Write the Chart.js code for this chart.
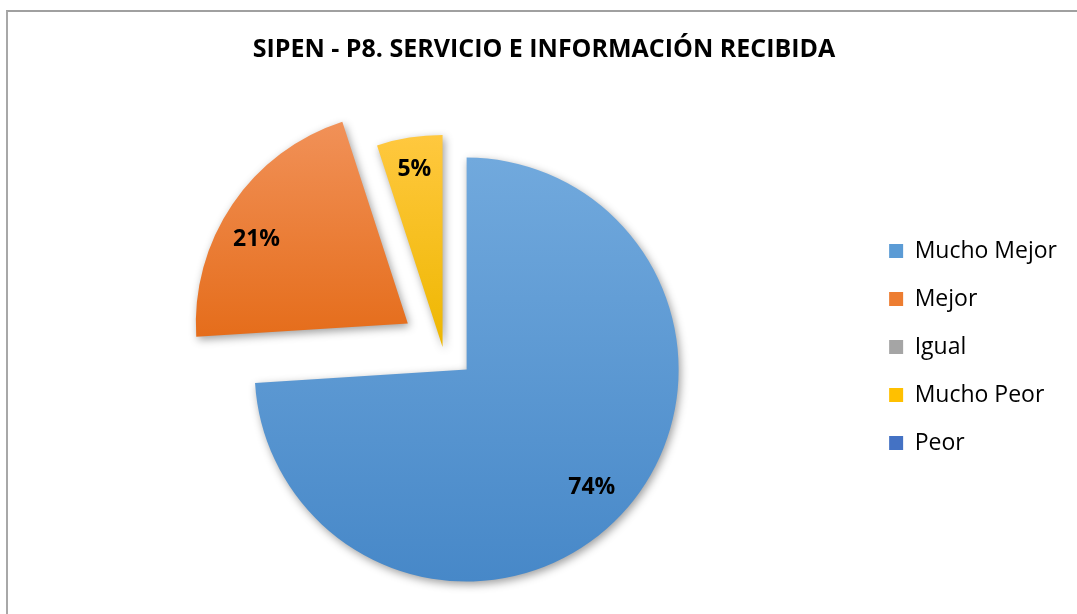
<!DOCTYPE html>
<html>
<head>
<meta charset="utf-8">
<script src="https://cdn.jsdelivr.net/npm/chart.js@4.4.1/dist/chart.umd.min.js"></script>
<style>
  html, body { margin: 0; padding: 0; background: #fff; }
  #wrap { position: relative; width: 1077px; height: 614px; overflow: hidden; }
  #frame { position: absolute; left: 6px; top: 10px; width: 1200px; height: 700px;
           border-left: 2px solid #a8a8a8; border-top: 2px solid #a0a0a0; }
  canvas { position: absolute; left: 0; top: 0; }
</style>
</head>
<body>
<div id="wrap">
  <div id="frame"></div>
  <canvas id="chart" width="1077" height="614"></canvas>
</div>
<script>
// ---- data ----
const categories = ['Mucho Mejor', 'Mejor', 'Igual', 'Mucho Peor', 'Peor'];
const values = [74, 21, 0, 5, 0];
const chartTitle = 'SIPEN - P8. SERVICIO E INFORMACIÓN RECIBIDA';

// ---- style ----
const legendColors = ['#5B9BD5', '#ED7D31', '#A5A5A5', '#FFC000', '#4472C4'];
const topColors    = ['#71A9DD', '#F19158', '#B5B5B5', '#FFC83F', '#5B86D0'];
const bottomColors = ['#4788C8', '#E56D1B', '#959595', '#EEB700', '#3A64B2'];
const explode      = [33, 42, 0, 0, 0];               // px pulled out along the bisector
const labelAt      = [0.5, 0.43, 0.5, 0.5, 0.5];      // where along the slice the label sits
const labelRadius  = [0.81, 0.815, 0.8, 0.85, 0.8];   // fraction of the radius

const total = values.reduce((a, b) => a + b, 0);

/* Exploded slices with vertical gradient + soft shadow */
const explodePlugin = {
  id: 'explode',
  afterDatasetUpdate(chart, args) {
    args.meta.data.forEach((arc, i) => {
      arc.draw = function (ctx) {
        if (!this.circumference) return;
        const mid = (this.startAngle + this.endAngle) / 2;
        const d = explode[i] || 0;

        const ys = [this.y];
        for (let k = 0; k <= 32; k++) {
          const a = this.startAngle + (this.endAngle - this.startAngle) * k / 32;
          ys.push(this.y + Math.sin(a) * this.outerRadius);
        }
        const g = ctx.createLinearGradient(0, Math.min(...ys), 0, Math.max(...ys));
        g.addColorStop(0, topColors[i]);
        g.addColorStop(1, bottomColors[i]);

        const saved = this.options.backgroundColor;
        this.options.backgroundColor = g;
        ctx.save();
        ctx.translate(Math.cos(mid) * d, Math.sin(mid) * d);
        ctx.shadowColor = 'rgba(0,0,0,0.38)';
        ctx.shadowBlur = 8;
        ctx.shadowOffsetX = 2;
        ctx.shadowOffsetY = 3;
        Chart.ArcElement.prototype.draw.call(this, ctx);
        ctx.restore();
        this.options.backgroundColor = saved;
      };
    });
  }
};

/* Percentage labels inside the slices */
const labelPlugin = {
  id: 'sliceLabels',
  afterDatasetsDraw(chart) {
    const { ctx } = chart;
    const meta = chart.getDatasetMeta(0);
    ctx.save();
    ctx.font = 'bold 23px "Open Sans"';
    ctx.fillStyle = '#000';
    ctx.textAlign = 'center';
    ctx.textBaseline = 'middle';
    meta.data.forEach((arc, i) => {
      if (!values[i]) return;
      const mid = (arc.startAngle + arc.endAngle) / 2;
      const at = arc.startAngle + (arc.endAngle - arc.startAngle) * labelAt[i];
      const d = explode[i] || 0;
      const cx = arc.x + Math.cos(mid) * d;
      const cy = arc.y + Math.sin(mid) * d;
      const r = arc.outerRadius * labelRadius[i];
      const txt = Math.round(values[i] / total * 100) + '%';
      ctx.fillText(txt, cx + Math.cos(at) * r, cy + Math.sin(at) * r);
    });
    ctx.restore();
  }
};

new Chart(document.getElementById('chart'), {
  type: 'pie',
  data: {
    labels: categories,
    datasets: [{
      data: values,
      backgroundColor: legendColors,
      borderWidth: 0,
      hoverOffset: 0,
      radius: 212
    }]
  },
  options: {
    responsive: false,
    animation: false,
    events: [],
    layout: { padding: { left: 21, right: 10, top: 0, bottom: 1 } },
    plugins: {
      title: {
        display: true,
        text: chartTitle,
        color: '#000',
        font: { family: 'Open Sans', size: 25, weight: 'bold' },
        padding: { top: 35, bottom: 16 }
      },
      legend: {
        position: 'right',
        fullSize: false,
        labels: {
          font: { family: 'Open Sans', size: 23 },
          color: '#000',
          boxWidth: 14,
          boxHeight: 14,
          padding: 25,
          generateLabels: () => categories.map((c, i) => ({
            text: c,
            fillStyle: legendColors[i],
            strokeStyle: legendColors[i],
            lineWidth: 0,
            hidden: false,
            index: i
          }))
        }
      },
      tooltip: { enabled: false }
    }
  },
  plugins: [explodePlugin, labelPlugin]
});
</script>
</body>
</html>
